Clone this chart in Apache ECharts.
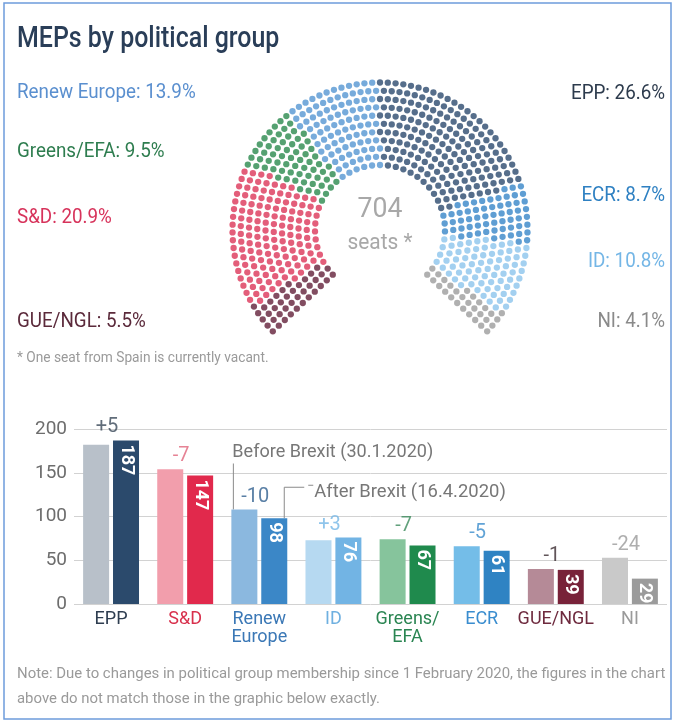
<!DOCTYPE html>
<html>
<head>
<meta charset="utf-8">
<script src="https://cdn.jsdelivr.net/npm/echarts@6/dist/echarts.min.js"></script>
<style>
html,body{margin:0;padding:0;background:#fff;}
#c{width:675px;height:722px;}
</style>
</head>
<body>
<div id="c"></div>
<script>
// ---------------- DATA ----------------
const groups = ['EPP', 'S&D', 'Renew Europe', 'ID', 'Greens/EFA', 'ECR', 'GUE/NGL', 'NI'];
const axisLabels = ['EPP', 'S&D', 'Renew\nEurope', 'ID', 'Greens/\nEFA', 'ECR', 'GUE/NGL', 'NI'];
const seatsBefore = [182, 154, 108, 73, 74, 66, 40, 53];   // 30.1.2020
const seatsAfter  = [187, 147, 98, 76, 67, 61, 39, 29];    // 16.4.2020
const totalSeats = 704;
const yTicks = [0, 50, 100, 150, 200];
// order of groups around the hemicycle (left to right)
const hemiOrder = ['GUE/NGL', 'S&D', 'Greens/EFA', 'Renew Europe', 'EPP', 'ECR', 'ID', 'NI'];

// ---------------- STYLE ----------------
const FONT = 'Roboto, "Noto Sans", sans-serif';
const SX = 0.94; // horizontal squeeze to mimic the condensed typeface
const colAfter  = {'EPP':'#2b4a6c','S&D':'#e1294c','Renew Europe':'#3b87c7','ID':'#72b4e4','Greens/EFA':'#1f8a4d','ECR':'#2f83c3','GUE/NGL':'#782239','NI':'#9b9b9b'};
const colBefore = {'EPP':'#b8c0c9','S&D':'#f29eac','Renew Europe':'#8bb8df','ID':'#b6d9f1','Greens/EFA':'#86c49c','ECR':'#74bde8','GUE/NGL':'#b58a97','NI':'#c9c9c9'};
const colText   = {'EPP':'#2e3d50','S&D':'#d8304c','Renew Europe':'#3b78b6','ID':'#6fb0e0','Greens/EFA':'#2a8552','ECR':'#3a8dcf','GUE/NGL':'#6e2a3e','NI':'#9a9a9a'};
const colDiff   = {'EPP':'#3a4959','S&D':'#e0647a','Renew Europe':'#2f5f8e','ID':'#74b6e6','Greens/EFA':'#3b8a5b','ECR':'#3a8ccc','GUE/NGL':'#3a2a30','NI':'#9a9a9a'};
const colSeat   = {'EPP':'#2c4a6e','S&D':'#dc3659','Renew Europe':'#5596d2','ID':'#8cc4ec','Greens/EFA':'#2b8a4e','ECR':'#3786c8','GUE/NGL':'#63213a','NI':'#9c9c9c'};
const colLabel  = {'EPP':'#2d3b4d','S&D':'#d7335b','Renew Europe':'#5a8fcf','ID':'#74b6e6','Greens/EFA':'#2e7d4f','ECR':'#2e80c2','GUE/NGL':'#5b2a3b','NI':'#8a8a8a'};

// ---------------- HEMICYCLE LAYOUT ----------------
const ROWS = 11, R_IN = 65, R_OUT = 147.5, SPAN = 270, EDGE = 1.6;
const radii = [];
for (let i = 0; i < ROWS; i++) radii.push(R_IN + i * (R_OUT - R_IN) / (ROWS - 1));
const sumR = radii.reduce((a, b) => a + b, 0);
const perRow = radii.map(r => Math.round(totalSeats * r / sumR));
let diffS = totalSeats - perRow.reduce((a, b) => a + b, 0);
for (let i = ROWS - 1; diffS !== 0; i = (i - 1 + ROWS) % ROWS) { perRow[i] += Math.sign(diffS); diffS -= Math.sign(diffS); }
const seats = [];
radii.forEach((r, i) => {
  const n = perRow[i];
  for (let j = 0; j < n; j++) {
    const a = EDGE + (SPAN - 2 * EDGE) * j / (n - 1);
    seats.push([r, a]);
  }
});
seats.sort((p, q) => (p[1] - q[1]) || (p[0] - q[0]));
const seatSeries = [];
let k = 0;
hemiOrder.forEach(g => {
  const n = seatsAfter[groups.indexOf(g)];
  const pts = seats.slice(k, k + n);
  k += n;
  seatSeries.push({
    type: 'scatter', coordinateSystem: 'polar', polarIndex: 0,
    symbol: 'circle', symbolSize: 6.3, silent: true,
    itemStyle: { color: colSeat[g] },
    data: pts
  });
});

// ---------------- CHART ----------------
const chart = echarts.init(document.getElementById('c'), null, { renderer: 'canvas', width: 675, height: 722 });

const diffVals = seatsAfter.map((v, i) => v - seatsBefore[i]);
const diffTop = seatsAfter.map((v, i) => Math.max(v, seatsBefore[i]));

const pct = g => (seatsAfter[groups.indexOf(g)] / totalSeats * 100).toFixed(1) + '%';

function txt(x, y, s, size, color, align, sx, weight) {
  return {
    type: 'text', x: x, y: y, scaleX: sx === undefined ? SX : sx, silent: true,
    style: { text: s, font: (weight || 'normal') + ' ' + size + 'px ' + FONT, fill: color, textAlign: align || 'left', textVerticalAlign: 'middle' }
  };
}

const option = {
  backgroundColor: '#ffffff',
  animation: false,
  textStyle: { fontFamily: FONT },
  polar: { center: [380, 230], radius: 151 },
  angleAxis: { type: 'value', min: 0, max: 360, startAngle: 225, clockwise: true, show: false },
  radiusAxis: { type: 'value', min: 0, max: 151, show: false },
  grid: { left: 74, right: 8, top: 429, bottom: 118 },
  xAxis: {
    type: 'category',
    data: axisLabels.map((s, i) => ({ value: s, textStyle: { color: colText[groups[i]] } })),
    axisLine: { show: false }, axisTick: { show: false },
    axisLabel: { fontFamily: FONT, fontSize: 18, lineHeight: 18, margin: 6, interval: 0 }
  },
  yAxis: {
    type: 'value', min: yTicks[0], max: yTicks[yTicks.length - 1], interval: 50,
    axisLine: { show: false }, axisTick: { show: false },
    axisLabel: { fontFamily: FONT, fontSize: 19, color: '#6d6d6d', margin: 7 },
    splitLine: { lineStyle: { color: '#d2d2d2', width: 1 } }
  },
  series: [
    {
      name: 'Before Brexit (30.1.2020)', type: 'bar', barWidth: 26, barGap: '15%',
      data: seatsBefore.map((v, i) => ({ value: v, itemStyle: { color: colBefore[groups[i]] } }))
    },
    {
      name: 'After Brexit (16.4.2020)', type: 'bar', barWidth: 26,
      data: seatsAfter.map((v, i) => ({ value: v, itemStyle: { color: colAfter[groups[i]] } })),
      label: {
        show: true, position: 'insideTop', rotate: -90, align: 'left', verticalAlign: 'middle',
        distance: 4, color: '#ffffff', fontFamily: FONT, fontSize: 18, fontWeight: 'bold'
      }
    },
    {
      type: 'scatter', symbolSize: 0, silent: true,
      data: diffTop.map((v, i) => ({
        value: v,
        label: {
          show: true, position: 'top', distance: 3, offset: [-4, 0],
          formatter: (diffVals[i] > 0 ? '+' : '') + diffVals[i],
          color: colDiff[groups[i]], fontFamily: FONT, fontSize: 20
        }
      }))
    }
  ].concat(seatSeries),
  graphic: [
    { type: 'rect', silent: true, shape: { x: 4, y: 3, width: 667, height: 716 }, style: { fill: 'none', stroke: '#6e9cdb', lineWidth: 1.5 } },
    txt(17, 40, 'MEPs by political group', 29, '#2a3e58', 'left', 0.86, 500),
    txt(17, 93, 'Renew Europe: ' + pct('Renew Europe'), 20, colLabel['Renew Europe']),
    txt(17, 152, 'Greens/EFA: ' + pct('Greens/EFA'), 20, colLabel['Greens/EFA']),
    txt(17, 218, 'S&D: ' + pct('S&D'), 20, colLabel['S&D']),
    txt(17, 322, 'GUE/NGL: ' + pct('GUE/NGL'), 20, colLabel['GUE/NGL']),
    txt(665, 94, 'EPP: ' + pct('EPP'), 20, colLabel['EPP'], 'right'),
    txt(665, 196, 'ECR: ' + pct('ECR'), 20, colLabel['ECR'], 'right'),
    txt(665, 262, 'ID: ' + pct('ID'), 20, colLabel['ID'], 'right'),
    txt(665, 322, 'NI: ' + pct('NI'), 20, colLabel['NI'], 'right'),
    txt(380, 210, String(totalSeats), 28, '#a8a8a8', 'center', 0.95),
    txt(380, 243, 'seats *', 22, '#a8a8a8', 'center', 0.95),
    txt(17, 358, '* One seat from Spain is currently vacant.', 14, '#9a9a9a', 'left', 0.98),
    txt(17, 674, 'Note: Due to changes in political group membership since 1 February 2020, the figures in the chart', 15, '#9a9a9a', 'left', 0.995),
    txt(17, 699, 'above do not match those in the graphic below exactly.', 15, '#9a9a9a', 'left', 0.995)
  ]
};
chart.setOption(option);

// ---------------- ANNOTATIONS (positioned from the bar layout) ----------------
(function () {
  const ri = groups.indexOf('Renew Europe');
  let lb, la;
  try {
    lb = chart.getModel().getSeriesByIndex(0).getData().getItemLayout(ri);
    la = chart.getModel().getSeriesByIndex(1).getData().getItemLayout(ri);
  } catch (e) {}
  const c = chart.convertToPixel({ gridIndex: 0 }, [ri, seatsBefore[ri]]);
  const ca = chart.convertToPixel({ gridIndex: 0 }, [ri, seatsAfter[ri]]);
  const bx = lb ? lb.x + 2 : c[0] - 26;
  const ax = la ? la.x + la.width - 3 : c[0] + 25;
  const byTop = c[1], ayTop = ca[1];
  const g = option.graphic.slice();
  const lineStyle = { stroke: '#8a8a8a', lineWidth: 1 };
  g.push({ type: 'line', silent: true, shape: { x1: bx, y1: byTop - 46, x2: bx, y2: byTop }, style: lineStyle });
  g.push(txt(bx - 1, byTop - 57, 'Before Brexit (30.1.2020)', 19, '#777777', 'left', 0.95));
  g.push({ type: 'polyline', silent: true, shape: { points: [[ax, ayTop], [ax, ayTop - 31], [ax + 20, ayTop - 31]] }, style: Object.assign({ fill: null }, lineStyle) });
  g.push({ type: 'line', silent: true, shape: { x1: ax + 24, y1: ayTop - 33, x2: ax + 29, y2: ayTop - 33 }, style: lineStyle });
  g.push(txt(ax + 30, ayTop - 26, 'After Brexit (16.4.2020)', 19, '#777777', 'left', 0.97));
  chart.setOption({ graphic: g }, { replaceMerge: ['graphic'] });
})();
</script>
</body>
</html>
